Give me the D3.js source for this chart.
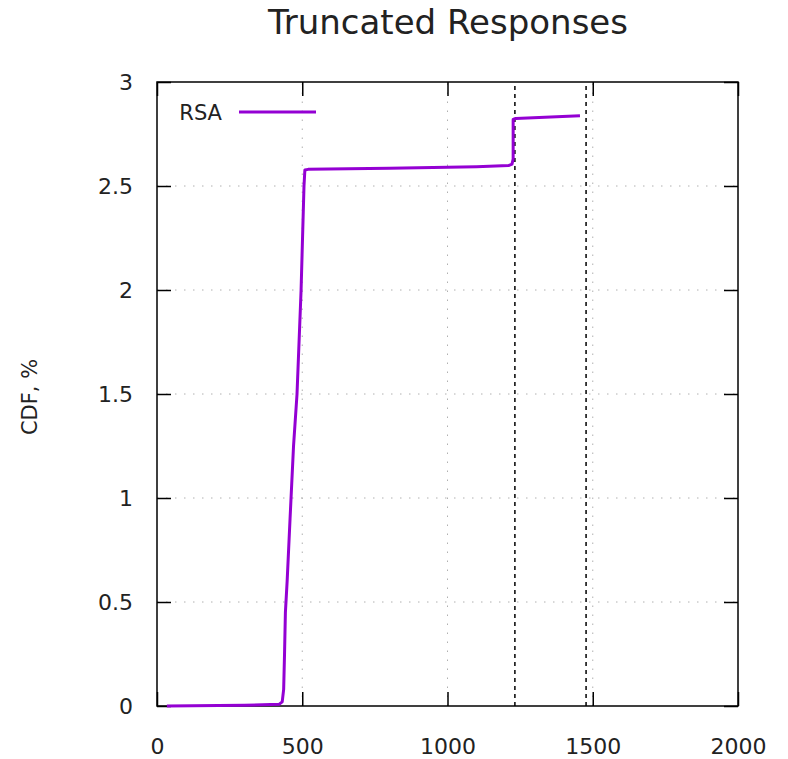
<!DOCTYPE html>
<html>
<head>
<meta charset="utf-8">
<script src="https://cdn.jsdelivr.net/npm/d3@7"></script>
<style>
  html, body { margin: 0; padding: 0; background: #fff; }
  svg { display: block; font-family: "DejaVu Sans", sans-serif; }
</style>
</head>
<body>
<svg id="chart" width="788" height="759"></svg>
<script>
// ---- data ----
const chartTitle = "Truncated Responses";
const yLabel = "CDF, %";
const seriesName = "RSA";
const xTicks = [0, 500, 1000, 1500, 2000];
const yTicks = [0, 0.5, 1, 1.5, 2, 2.5, 3];
const xDomain = [0, 2000];
const yDomain = [0, 3];
// response size (bytes)
const rsaX = [34, 300, 420, 431, 436, 439, 442, 448, 458, 470, 482, 496, 506, 509, 520, 800, 1100, 1210, 1222, 1226, 1226, 1235, 1456];
// CDF, %
const rsaY = [0, 0.004, 0.008, 0.02, 0.08, 0.25, 0.45, 0.6, 0.9, 1.25, 1.5, 2.0, 2.5, 2.577, 2.58, 2.585, 2.593, 2.598, 2.605, 2.63, 2.82, 2.825, 2.838];
// vertical reference lines
const refLines = [1232, 1477];

// ---- layout ----
const svg = d3.select("#chart");
const L = 157, R = 738, T = 82, B = 706;
const x = d3.scaleLinear().domain(xDomain).range([L, R]);
const y = d3.scaleLinear().domain(yDomain).range([B, T]);

// grid
const grid = svg.append("g").attr("stroke", "#b0b0b0").attr("stroke-width", 1).attr("stroke-dasharray", "1.5,7.5");
xTicks.filter(t => t > xDomain[0] && t < xDomain[1]).forEach(t => {
  grid.append("line").attr("x1", x(t)).attr("x2", x(t)).attr("y1", B).attr("y2", T);
});
yTicks.filter(t => t > yDomain[0] && t < yDomain[1]).forEach(t => {
  grid.append("line").attr("x1", L).attr("x2", R).attr("y1", y(t)).attr("y2", y(t));
});

// reference dashed lines
svg.append("g").selectAll("line").data(refLines).join("line")
  .attr("x1", d => x(d)).attr("x2", d => x(d)).attr("y1", B).attr("y2", T)
  .attr("stroke", "#000").attr("stroke-width", 1.5).attr("stroke-dasharray", "4,4");

// axes with inward ticks (mirrored)
const tickLen = 14;
const axB = svg.append("g").attr("transform", `translate(0,${B})`)
  .call(d3.axisBottom(x).tickValues(xTicks).tickSize(-tickLen).tickFormat(d3.format("d")));
const axT = svg.append("g").attr("transform", `translate(0,${T})`)
  .call(d3.axisTop(x).tickValues(xTicks).tickSize(-tickLen).tickFormat(""));
const axL = svg.append("g").attr("transform", `translate(${L},0)`)
  .call(d3.axisLeft(y).tickValues(yTicks).tickSize(-tickLen).tickFormat(d => d3.format("")(d)));
const axRt = svg.append("g").attr("transform", `translate(${R},0)`)
  .call(d3.axisRight(y).tickValues(yTicks).tickSize(-tickLen).tickFormat(""));
[axB, axT, axL, axRt].forEach(a => {
  a.select(".domain").remove();
  a.selectAll(".tick line").attr("stroke", "#000").attr("stroke-width", 1.5);
  a.selectAll("text").attr("fill", "#222").style("font-size", "22px").style("font-family", "DejaVu Sans, sans-serif");
});
axB.selectAll("text").attr("dy", "0.71em").attr("y", 32);
axL.selectAll("text").attr("x", -24);

// frame
svg.append("rect").attr("x", L).attr("y", T).attr("width", R - L).attr("height", B - T)
  .attr("fill", "none").attr("stroke", "#000").attr("stroke-width", 1.5);

// series
const pts = rsaX.map((v, i) => [v, rsaY[i]]);
svg.append("path").datum(pts)
  .attr("d", d3.line().x(d => x(d[0])).y(d => y(d[1])))
  .attr("fill", "none").attr("stroke", "#9400d3").attr("stroke-width", 3)
  .attr("stroke-linejoin", "round");

// legend
svg.append("text").attr("x", 222).attr("y", 120).attr("text-anchor", "end")
  .style("font-size", "21px").attr("fill", "#222").text(seriesName);
svg.append("line").attr("x1", 239).attr("x2", 316).attr("y1", 112).attr("y2", 112)
  .attr("stroke", "#9400d3").attr("stroke-width", 3);

// title
svg.append("text").attr("x", 448).attr("y", 34).attr("text-anchor", "middle")
  .style("font-size", "34px").attr("fill", "#222").text(chartTitle);

// y label
svg.append("text").attr("transform", "translate(37,397) rotate(-90)").attr("text-anchor", "middle")
  .style("font-size", "21px").attr("fill", "#222").text(yLabel);
</script>
</body>
</html>
